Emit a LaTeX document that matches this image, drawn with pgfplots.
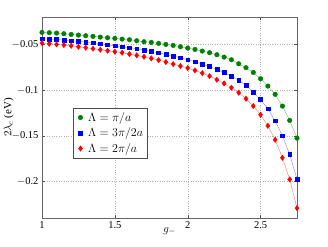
\documentclass[border=0pt]{standalone}
\usepackage{pgfplots}
\pgfplotsset{compat=1.18}
\usepackage{fontspec}
\setmainfont{Liberation Serif}
\definecolor{dgreen}{rgb}{0,0.5,0}
\definecolor{lgreen}{rgb}{0.45,0.75,0.45}
\definecolor{lblue}{rgb}{0.5,0.5,1}
\definecolor{lred}{rgb}{1,0.45,0.45}
\begin{document}
\begin{tikzpicture}
\begin{axis}[
  scale only axis,
  width=255pt, height=201pt,
  xmin=1, xmax=2.75, ymin=-0.24, ymax=-0.02,
  xtick={1,1.5,2,2.5}, ytick={-0.2,-0.15,-0.1,-0.05},
  xticklabels={1,1.5,2,2.5},
  yticklabels={$-$0.2,$-$0.15,$-$0.1,$-$0.05},
  tick align=inside, tick style={black!70},
  major tick length=3pt,
  grid=major, grid style={dotted, gray!60},
  axis line style={black!60},
  ticklabel style={font=\fontsize{10.5}{11}\selectfont},
  xlabel={$g_-$}, ylabel={$2\lambda_c$ (eV)},
  xlabel style={yshift=8pt, font=\fontsize{11}{12}\selectfont},
  ylabel style={yshift=-9pt, font=\fontsize{11}{12}\selectfont},
  legend style={at={(0.12,0.547)}, anchor=north west, draw=black!70, font=\fontsize{11.5}{13}\selectfont, row sep=1pt, inner sep=2pt},
  legend cell align=left,
  legend image code/.code={\draw[#1, draw=none, mark repeat=2, mark phase=2] plot coordinates {(0cm,0cm)(0.2cm,0cm)(0.4cm,0cm)};},
]
\addplot[lgreen, mark=*, mark size=2.3pt, mark options={draw=dgreen, fill=dgreen}] coordinates {
(1,-0.0369)(1.05,-0.0372)(1.1,-0.0376)(1.15,-0.0383)(1.2,-0.0391)(1.25,-0.0398)(1.3,-0.0405)(1.35,-0.0412)(1.4,-0.0420)(1.45,-0.0427)(1.5,-0.0434)(1.55,-0.0442)(1.6,-0.0449)(1.65,-0.0460)(1.7,-0.0471)(1.75,-0.0478)(1.8,-0.0489)(1.85,-0.0500)(1.9,-0.0511)(1.95,-0.0526)(2,-0.0540)(2.05,-0.0555)(2.1,-0.0573)(2.15,-0.0591)(2.2,-0.0613)(2.25,-0.0639)(2.3,-0.0668)(2.35,-0.0712)(2.4,-0.0755)(2.45,-0.0807)(2.5,-0.0876)(2.55,-0.0956)(2.6,-0.1047)(2.65,-0.1175)(2.7,-0.1332)(2.75,-0.1526)};
\addlegendentry{$\Lambda=\pi/a$}
\addplot[lblue, mark=square*, mark size=1.9pt, mark options={draw=blue, fill=blue}] coordinates {
(1,-0.0438)(1.05,-0.0442)(1.1,-0.0445)(1.15,-0.0453)(1.2,-0.0460)(1.25,-0.0467)(1.3,-0.0474)(1.35,-0.0482)(1.4,-0.0493)(1.45,-0.0504)(1.5,-0.0515)(1.55,-0.0526)(1.6,-0.0536)(1.65,-0.0547)(1.7,-0.0562)(1.75,-0.0577)(1.8,-0.0591)(1.85,-0.0609)(1.9,-0.0628)(1.95,-0.0646)(2,-0.0668)(2.05,-0.0690)(2.1,-0.0715)(2.15,-0.0741)(2.2,-0.0774)(2.25,-0.0807)(2.3,-0.0847)(2.35,-0.0891)(2.4,-0.0949)(2.45,-0.1022)(2.5,-0.1102)(2.55,-0.1204)(2.6,-0.1336)(2.65,-0.1500)(2.7,-0.1704)(2.75,-0.1974)};
\addlegendentry{$\Lambda=3\pi/2a$}
\addplot[lred, mark=diamond*, mark size=2.7pt, mark options={draw=red, fill=red}] coordinates {
(1,-0.0485)(1.05,-0.0493)(1.1,-0.0500)(1.15,-0.0507)(1.2,-0.0515)(1.25,-0.0526)(1.3,-0.0536)(1.35,-0.0547)(1.4,-0.0558)(1.45,-0.0569)(1.5,-0.0580)(1.55,-0.0591)(1.6,-0.0606)(1.65,-0.0620)(1.7,-0.0635)(1.75,-0.0653)(1.8,-0.0672)(1.85,-0.0693)(1.9,-0.0715)(1.95,-0.0737)(2,-0.0759)(2.05,-0.0785)(2.1,-0.0814)(2.15,-0.0847)(2.2,-0.0887)(2.25,-0.0927)(2.3,-0.0974)(2.35,-0.1029)(2.4,-0.1095)(2.45,-0.1175)(2.5,-0.1270)(2.55,-0.1391)(2.6,-0.1544)(2.65,-0.1741)(2.7,-0.1978)(2.75,-0.2292)};
\addlegendentry{$\Lambda=2\pi/a$}
\end{axis}
\path ([shift={(-42pt,-28pt)}]current axis.south west) rectangle ([shift={(31pt,17pt)}]current axis.north east);
\end{tikzpicture}
\end{document}
